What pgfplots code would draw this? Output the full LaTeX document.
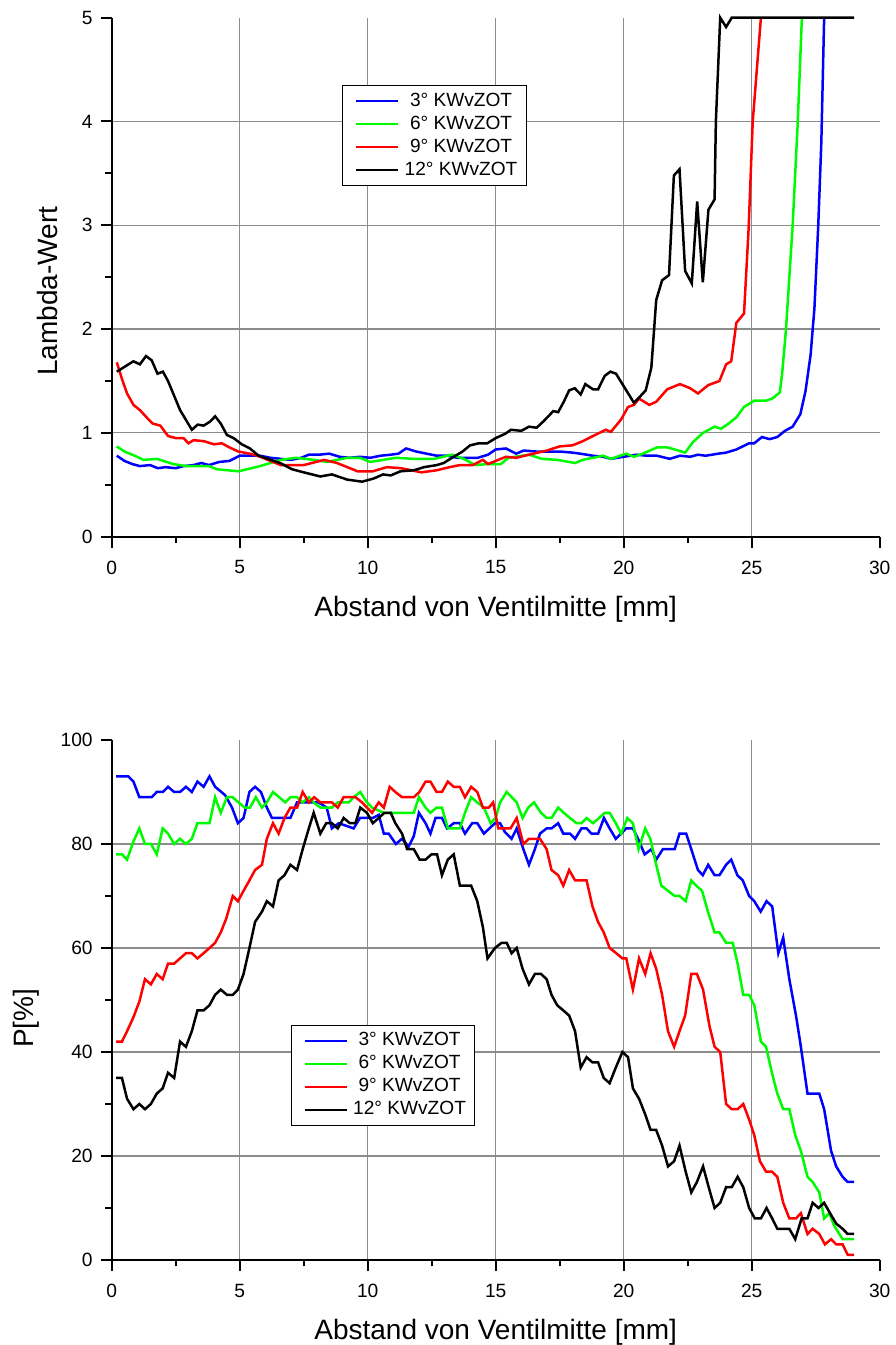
\documentclass[border=0pt]{standalone}
\usepackage{fontspec}
\setmainfont{Liberation Sans}
\usepackage{pgfplots}
\pgfplotsset{compat=1.18}
\definecolor{cblue}{RGB}{0,0,255}
\definecolor{cgreen}{RGB}{0,250,0}
\definecolor{cred}{RGB}{255,0,0}
\definecolor{cgrid}{RGB}{140,140,140}
\pgfplotsset{
  myaxis/.style={
    scale only axis, width=384pt,
    xmin=0, xmax=30,
    axis x line*=bottom, axis y line*=left,
    axis line style={line width=1pt},
    tick align=outside,
    major tick length=5.5pt, minor tick length=3.2pt,
    every tick/.style={black, line width=1pt},
    xtick={0,5,10,15,20,25}, extra x ticks={30}, extra x tick style={grid=none},
    minor x tick num=1,
    grid=major, major grid style={cgrid, line width=0.6pt},
    tick label style={font=\fontsize{9.6}{11}\selectfont},
    xticklabel style={yshift=-3pt},
    yticklabel style={xshift=-0.5pt},
    /pgf/number format/assume math mode=true,
    label style={font=\fontsize{14}{16}\selectfont},
    xlabel={Abstand von Ventilmitte [mm]},
    xlabel style={at={(axis description cs:0.5,0)}, anchor=base, yshift=-40pt},
    clip=false,
    every axis plot/.append style={line width=1.25pt},
    legend image code/.code={\path (0pt,0pt); \draw[#1] (3pt,0pt) -- (24pt,0pt);},
    legend cell align=center,
    legend style={draw=black, line width=0.5pt, font=\fontsize{9.55}{10}\selectfont,
      inner xsep=3.3pt, inner ysep=2.2pt, row sep=0.5pt, column sep=1.5pt,
      nodes={inner sep=1pt, text height=7pt, text depth=2pt},
      anchor=north west},
  }
}
\begin{document}
\begin{tikzpicture}
\useasboundingbox (0,0) rectangle (447.5pt,672.5pt);
% ---------------- top axis ----------------
\begin{axis}[myaxis, at={(55.85pt,404.15pt)}, anchor=south west, height=259.5pt,
  ymin=0, ymax=5, ytick={0,1,2,3,4}, extra y ticks={5}, extra y tick style={grid=none},
  minor y tick num=1, ylabel={Lambda-Wert},
  ylabel style={at={(axis description cs:0,0.473)}, anchor=base, yshift=27.2pt},
  legend style={at={(0.300,0.870)}}]
\addplot[cblue] coordinates {(0.2,0.78) (0.5,0.73) (0.8,0.70) (1.1,0.68) (1.5,0.69) (1.8,0.66) (2.1,0.67) (2.5,0.66) (2.8,0.68) (3.2,0.69) (3.5,0.71) (3.8,0.69) (4.2,0.72) (4.6,0.73) (5.0,0.78) (5.4,0.78) (5.8,0.78) (6.2,0.76) (6.6,0.75) (7.0,0.74) (7.4,0.76) (7.7,0.79) (8.1,0.79) (8.5,0.80) (8.9,0.77) (9.3,0.76) (9.7,0.77) (10.1,0.76) (10.5,0.78) (10.9,0.79) (11.2,0.80) (11.5,0.85) (11.9,0.82) (12.3,0.80) (12.7,0.78) (13.1,0.78) (13.5,0.76) (13.9,0.76) (14.3,0.76) (14.7,0.79) (15.0,0.84) (15.4,0.85) (15.8,0.80) (16.1,0.83) (16.6,0.82) (17.0,0.82) (17.5,0.82) (18.0,0.81) (18.3,0.80) (18.8,0.78) (19.2,0.77) (19.5,0.75) (20.0,0.77) (20.5,0.79) (20.9,0.78) (21.3,0.78) (21.8,0.75) (22.2,0.78) (22.6,0.77) (22.9,0.79) (23.2,0.78) (23.7,0.80) (24.0,0.81) (24.4,0.84) (24.9,0.90) (25.1,0.90) (25.4,0.96) (25.7,0.94) (26.0,0.96) (26.3,1.02) (26.6,1.06) (26.9,1.18) (27.1,1.4) (27.3,1.75) (27.45,2.2) (27.6,3.0) (27.72,3.8) (27.83,5)};
\addlegendentry{3° KWvZOT}
\addplot[cgreen] coordinates {(0.2,0.87) (0.5,0.82) (0.9,0.78) (1.24,0.74) (1.76,0.75) (2.4,0.70) (2.9,0.68) (3.4,0.68) (3.8,0.68) (4.1,0.65) (4.95,0.63) (5.8,0.68) (6.6,0.74) (7.2,0.76) (7.9,0.74) (8.4,0.72) (9.2,0.76) (9.7,0.76) (10.1,0.72) (10.6,0.74) (11.1,0.76) (11.8,0.75) (12.6,0.75) (13.3,0.79) (13.75,0.75) (14.2,0.69) (14.7,0.70) (15.2,0.70) (15.5,0.76) (16.3,0.79) (16.8,0.75) (17.4,0.74) (18.1,0.71) (18.4,0.74) (19.2,0.78) (19.5,0.75) (20.1,0.80) (20.4,0.77) (20.75,0.80) (21.3,0.86) (21.7,0.86) (22.0,0.84) (22.4,0.81) (22.7,0.91) (23.1,1.0) (23.55,1.06) (23.8,1.04) (24.1,1.09) (24.4,1.15) (24.7,1.25) (25.1,1.31) (25.55,1.31) (25.8,1.33) (26.1,1.39) (26.2,1.6) (26.34,2.0) (26.6,3.0) (26.8,4.0) (26.96,5)};
\addlegendentry{6° KWvZOT}
\addplot[cred] coordinates {(0.2,1.68) (0.4,1.52) (0.6,1.38) (0.85,1.27) (1.1,1.22) (1.4,1.14) (1.6,1.09) (1.9,1.07) (2.2,0.97) (2.5,0.95) (2.8,0.95) (3.0,0.90) (3.2,0.93) (3.6,0.92) (4.0,0.89) (4.3,0.90) (4.6,0.86) (4.95,0.82) (5.4,0.80) (5.8,0.77) (6.2,0.73) (6.6,0.69) (7.5,0.69) (8.3,0.74) (8.8,0.71) (9.2,0.67) (9.6,0.63) (10.2,0.63) (10.75,0.67) (11.3,0.66) (12.1,0.62) (12.7,0.64) (13.2,0.67) (13.6,0.69) (14.1,0.69) (14.5,0.74) (14.7,0.70) (15.0,0.73) (15.4,0.77) (15.8,0.76) (16.3,0.79) (17.0,0.83) (17.5,0.87) (18.0,0.88) (18.4,0.92) (18.8,0.97) (19.3,1.03) (19.5,1.01) (19.9,1.13) (20.17,1.25) (20.4,1.27) (20.6,1.33) (21.0,1.27) (21.27,1.30) (21.7,1.42) (22.2,1.47) (22.6,1.43) (22.9,1.38) (23.3,1.46) (23.74,1.50) (24.0,1.66) (24.2,1.69) (24.4,2.06) (24.7,2.15) (24.88,2.97) (25.04,4.0) (25.36,5)};
\addlegendentry{9° KWvZOT}
\addplot[black] coordinates {(0.2,1.59) (0.85,1.69) (1.1,1.66) (1.34,1.74) (1.56,1.70) (1.79,1.57) (2.0,1.59) (2.2,1.50) (2.67,1.22) (3.13,1.03) (3.36,1.08) (3.59,1.07) (3.85,1.11) (4.04,1.16) (4.26,1.09) (4.5,0.98) (4.76,0.95) (5.08,0.89) (5.4,0.85) (5.74,0.78) (6.58,0.71) (7.04,0.65) (7.5,0.62) (8.15,0.58) (8.6,0.60) (9.2,0.55) (9.78,0.53) (10.23,0.56) (10.6,0.60) (10.9,0.59) (11.28,0.63) (11.8,0.64) (12.2,0.67) (12.7,0.69) (12.97,0.71) (13.36,0.77) (13.7,0.82) (14.0,0.88) (14.34,0.90) (14.67,0.90) (15.0,0.95) (15.36,0.99) (15.6,1.03) (16.0,1.02) (16.3,1.06) (16.6,1.05) (16.86,1.11) (17.25,1.21) (17.44,1.20) (17.66,1.30) (17.87,1.41) (18.09,1.43) (18.32,1.37) (18.5,1.47) (18.8,1.42) (19.0,1.42) (19.26,1.55) (19.48,1.59) (19.7,1.57) (20.1,1.41) (20.4,1.29) (20.6,1.34) (20.86,1.41) (21.08,1.63) (21.27,2.28) (21.5,2.47) (21.77,2.52) (21.96,3.48) (22.18,3.54) (22.4,2.56) (22.66,2.44) (22.87,3.23) (23.09,2.45) (23.31,3.15) (23.55,3.25) (23.6,4.0) (23.77,5) (24.0,4.91) (24.22,5) (29.0,5)};
\addlegendentry{12° KWvZOT}
\end{axis}
% ---------------- bottom axis ----------------
\begin{axis}[myaxis, at={(55.85pt,42.5pt)}, anchor=south west, height=260pt,
  ymin=0, ymax=100, ytick={0,20,40,60,80}, extra y ticks={100}, extra y tick style={grid=none},
  minor y tick num=1, ylabel={P[\%]},
  ylabel style={at={(axis description cs:0,0.465)}, anchor=base, yshift=39.2pt},
  legend style={at={(0.233,0.452)}}]
\addplot[cblue] coordinates {(0.17,93) (0.65,93) (0.85,92) (1.08,89) (1.56,89) (1.76,90) (2.0,90) (2.2,91) (2.44,90) (2.67,90) (2.9,91) (3.13,90) (3.35,92) (3.59,91) (3.82,93) (4.04,91) (4.43,89.4) (4.7,87) (4.93,84) (5.15,85) (5.38,90) (5.6,91) (5.83,90) (6.06,87) (6.26,85) (6.98,85) (7.24,88) (8.08,88) (8.4,87) (8.6,83) (8.87,84) (9.45,83) (9.7,85) (10.2,85) (10.43,85.6) (10.63,82) (10.82,82) (11.1,80) (11.34,81) (11.6,79.5) (11.8,81.5) (12.0,86) (12.26,84) (12.45,82) (12.65,85) (12.9,85) (13.1,83) (13.36,84) (13.6,84) (13.8,82) (14.08,84) (14.28,84) (14.54,82) (14.97,84) (15.17,84) (15.36,82.3) (15.62,81) (15.82,83) (16.08,79) (16.3,76) (16.53,79) (16.73,82) (16.99,83) (17.18,83) (17.44,84) (17.64,82) (17.9,82) (18.1,81) (18.35,83) (18.55,83) (18.74,82) (19.0,82) (19.23,85) (19.45,83) (19.69,81) (19.9,82) (20.1,83) (20.36,83) (20.56,81) (20.82,78) (21.08,79) (21.27,77) (21.53,79) (21.99,79) (22.18,82) (22.44,82) (22.64,79) (22.9,75) (23.09,74) (23.3,76) (23.55,74) (23.74,74) (24.0,76) (24.2,77) (24.44,74) (24.65,73) (24.9,70) (25.1,69) (25.35,67) (25.58,69) (25.8,68) (26.04,59) (26.23,62) (26.47,54) (26.73,47) (26.9,41.7) (27.18,32) (27.64,32) (27.83,29) (28.1,21) (28.3,18) (28.55,16) (28.75,15) (29.0,15)};
\addlegendentry{3° KWvZOT}
\addplot[cgreen] coordinates {(0.17,78) (0.4,78) (0.6,77) (0.85,80.5) (1.08,83) (1.3,80) (1.54,80) (1.76,78) (1.99,83) (2.2,82) (2.44,80) (2.67,81) (2.9,80) (3.13,81) (3.35,84) (3.82,84) (4.04,89) (4.26,86) (4.5,89) (4.73,89) (4.95,88) (5.2,87) (5.4,87) (5.63,89) (5.87,87) (6.06,88) (6.3,90) (6.54,89) (6.78,88) (6.98,89) (7.24,89) (7.46,88) (7.7,89) (7.89,88) (8.15,87) (8.6,87) (8.83,88) (9.26,88) (9.45,89) (9.71,90) (9.97,88) (10.17,87) (10.63,86) (11.8,86) (12.0,89) (12.26,87) (12.45,86) (12.69,87) (12.9,87) (13.13,83) (13.6,83) (13.8,86) (14.04,89) (14.28,88) (14.54,87) (14.8,84) (15.0,85) (15.17,88) (15.43,90) (15.82,88) (16.05,85) (16.27,87) (16.5,88) (16.77,86) (16.99,85) (17.18,85) (17.44,87) (17.66,86) (17.9,85) (18.16,84) (18.35,84) (18.55,85) (18.8,84) (19.04,85) (19.26,86) (19.45,86) (19.69,84) (19.9,82) (20.14,85) (20.36,84) (20.58,79) (20.84,83) (21.04,81) (21.27,76) (21.47,72) (21.73,71) (21.99,70) (22.18,70) (22.42,69) (22.64,73) (22.83,72) (23.06,71) (23.29,67) (23.55,63) (23.74,63) (24.0,61) (24.26,61) (24.45,57) (24.67,51) (24.9,51) (25.1,49) (25.36,42) (25.56,41) (25.79,36) (26.0,32) (26.23,29) (26.47,29) (26.7,24) (26.92,21) (27.18,16) (27.38,15) (27.64,13) (27.83,8) (28.03,9) (28.22,6.6) (28.55,4) (29,4)};
\addlegendentry{6° KWvZOT}
\addplot[cred] coordinates {(0.17,42) (0.4,42) (0.6,44) (0.85,46.7) (1.08,49.7) (1.3,54) (1.53,53) (1.76,55) (1.99,54) (2.2,57) (2.44,57) (2.67,58) (2.9,59) (3.13,59) (3.35,58) (3.59,59) (3.82,60) (4.04,61) (4.26,63) (4.47,65.6) (4.73,70) (4.93,69) (5.15,71) (5.38,73) (5.6,75) (5.87,76) (6.06,81) (6.3,84) (6.52,82) (6.75,85) (6.98,87) (7.24,87) (7.46,90) (7.7,88) (7.91,89) (8.15,88) (8.6,88) (8.83,87) (9.06,89) (9.52,89) (9.78,88) (9.97,87) (10.17,86) (10.43,88) (10.63,87) (10.86,91) (11.08,90) (11.34,89) (11.8,89) (12.02,90) (12.26,92) (12.45,92) (12.69,90) (12.9,90) (13.13,92) (13.36,91) (13.6,91) (13.8,89) (14.04,91) (14.28,90) (14.5,87) (14.73,87) (14.9,88) (15.1,83) (15.36,83) (15.58,83) (15.82,85) (16.08,80) (16.3,81) (16.73,81) (16.99,79) (17.18,75) (17.44,74) (17.64,72) (17.87,75) (18.1,73) (18.55,73) (18.78,68) (19.0,65) (19.22,63) (19.45,60) (19.71,59) (19.95,58) (20.1,58) (20.36,52) (20.6,58) (20.84,55) (21.05,59) (21.27,56) (21.5,51) (21.73,44) (21.97,41) (22.18,44) (22.4,47) (22.64,55) (22.86,55) (23.1,52) (23.35,45) (23.55,41) (23.77,40) (24.0,30) (24.22,29) (24.45,29) (24.67,30) (24.9,27) (25.1,24) (25.32,19) (25.56,17) (25.79,17) (26.0,16) (26.23,11) (26.47,8) (26.73,8) (26.92,9) (27.18,5) (27.38,6) (27.64,5) (27.86,3) (28.1,4) (28.3,3) (28.55,3) (28.75,1) (29,1)};
\addlegendentry{9° KWvZOT}
\addplot[black] coordinates {(0.17,35) (0.4,35) (0.6,31) (0.85,29) (1.08,30) (1.3,29) (1.53,30) (1.76,32) (1.99,33) (2.2,36) (2.44,35) (2.67,42) (2.9,41) (3.13,44) (3.35,48) (3.59,48) (3.82,49) (4.04,51) (4.26,52) (4.5,51) (4.73,51) (4.93,52) (5.15,55) (5.38,60) (5.6,65) (5.87,67) (6.06,69) (6.3,68) (6.52,73) (6.75,74) (6.98,76) (7.24,75) (7.46,79) (7.7,83) (7.89,86) (8.15,82) (8.38,84) (8.6,84) (8.83,83) (9.06,85) (9.3,84) (9.52,84) (9.71,87) (9.97,86) (10.2,84) (10.43,85) (10.65,86) (10.9,86) (11.08,84) (11.34,82) (11.54,79) (11.8,79) (12.03,77) (12.26,77) (12.49,78) (12.71,78) (12.9,74) (13.13,77) (13.36,78) (13.6,72) (14.04,72) (14.28,69) (14.5,64) (14.68,58) (14.97,60) (15.23,61) (15.43,61) (15.62,59) (15.82,60) (16.05,56) (16.3,53) (16.53,55) (16.77,55) (16.99,54) (17.18,51) (17.4,49) (17.64,48) (17.87,47) (18.1,44) (18.32,37) (18.55,39) (18.78,38) (19.0,38) (19.22,35) (19.45,34) (19.69,37) (19.95,40) (20.17,39) (20.36,33) (20.6,31) (20.84,28) (21.05,25) (21.27,25) (21.5,22) (21.73,18) (21.97,19) (22.18,22) (22.42,17) (22.64,13) (22.86,15) (23.1,18) (23.32,14) (23.55,10) (23.77,11) (24.0,14) (24.22,14) (24.45,16) (24.67,14) (24.9,10) (25.12,8) (25.36,8) (25.58,10) (25.8,8) (26.0,6) (26.47,6) (26.7,4) (26.95,8) (27.18,8) (27.38,11) (27.61,10) (27.83,11) (28.06,9) (28.3,7) (28.55,6) (28.75,5) (29,5)};
\addlegendentry{12° KWvZOT}
\end{axis}
\end{tikzpicture}
\end{document}
